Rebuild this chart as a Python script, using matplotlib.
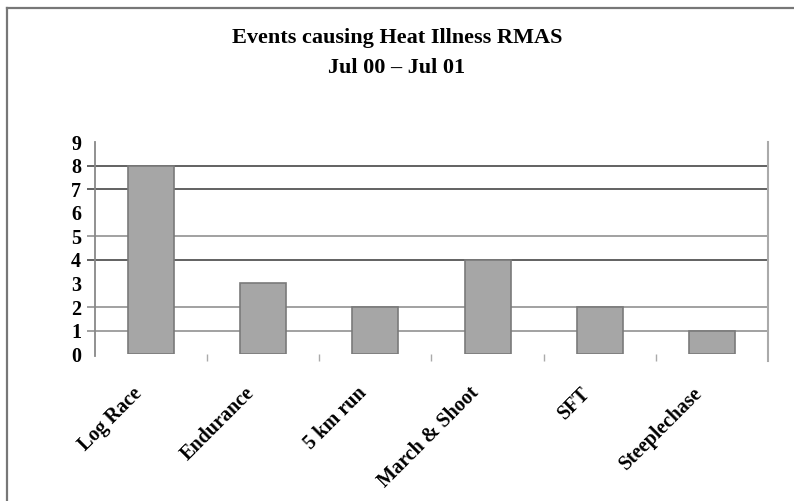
import matplotlib
matplotlib.use("Agg")
import matplotlib.pyplot as plt
import matplotlib.transforms as mtransforms
from matplotlib.lines import Line2D
import numpy as np

plt.rcParams['font.family'] = ['Liberation Serif', 'DejaVu Serif']

# dados
eventos = ['Log Race', 'Endurance', '5 km run', 'March & Shoot', 'SFT', 'Steeplechase']
casos = [8, 3, 2, 4, 2, 1]
y_ticks = list(range(0, 10))

fig = plt.figure(figsize=(7.94, 5.01), dpi=100)
ax = fig.add_axes([0.1196, 0.2934, 0.8476, 0.4222])

pos = np.arange(len(eventos))

# linhas de grade (algumas mais escuras, como no original)
for y, cor in [(1, '#9a9a9a'), (2, '#9a9a9a'), (4, '#555555'), (5, '#9a9a9a'), (7, '#555555'), (8, '#555555')]:
    ax.hlines(y, -0.012, 1, transform=ax.get_yaxis_transform(), color=cor, lw=1.3, clip_on=False, zorder=1)

ax.bar(pos, casos, width=0.41, color='#a6a6a6', edgecolor='#7a7a7a', linewidth=1.2, zorder=2)

ax.set_xlim(-0.5, len(eventos) - 0.5)
ax.set_ylim(0, 9)
ax.set_yticks(y_ticks)
ax.set_yticklabels([str(v) for v in y_ticks], fontsize=14.5, fontweight='bold')
ax.tick_params(axis='y', length=0, pad=10)

ax.set_xticks(pos)
ax.set_xticklabels(eventos, rotation=45, ha='right', va='top', rotation_mode='anchor',
                   fontsize=14.5, fontweight='bold')
ax.tick_params(axis='x', which='major', length=0, pad=21)
deslocamento = mtransforms.ScaledTranslation(-19 / 100, 0, fig.dpi_scale_trans)
for lbl in ax.get_xticklabels():
    lbl.set_transform(lbl.get_transform() + deslocamento)

ax.set_xticks(np.arange(0.5, len(eventos) - 1, 1), minor=True)
ax.tick_params(axis='x', which='minor', length=5, width=1, color='#aaaaaa', direction='out')

ax.spines['top'].set_visible(False)
ax.spines['bottom'].set_visible(False)
ax.spines['left'].set_color('#888888')
ax.spines['left'].set_linewidth(1.3)
ax.spines['left'].set_bounds(-0.1, 9)
ax.spines['right'].set_color('#aaaaaa')
ax.spines['right'].set_linewidth(1.5)
ax.spines['right'].set_bounds(-0.3, 9)

fig.text(0.5, 1 - 38 / 501, 'Events causing Heat Illness RMAS', ha='center', va='center',
         fontsize=16, fontweight='bold')
fig.text(0.5, 1 - 68 / 501, 'Jul 00 \u2013 Jul 01', ha='center', va='center',
         fontsize=16, fontweight='bold')

# moldura
fig.add_artist(Line2D([7 / 794, 1], [1 - 8 / 501, 1 - 8 / 501], transform=fig.transFigure, color='#777777', lw=1.6))
fig.add_artist(Line2D([7 / 794, 7 / 794], [0, 1 - 8 / 501], transform=fig.transFigure, color='#777777', lw=1.6))

fig.savefig('out.png', dpi=100)
